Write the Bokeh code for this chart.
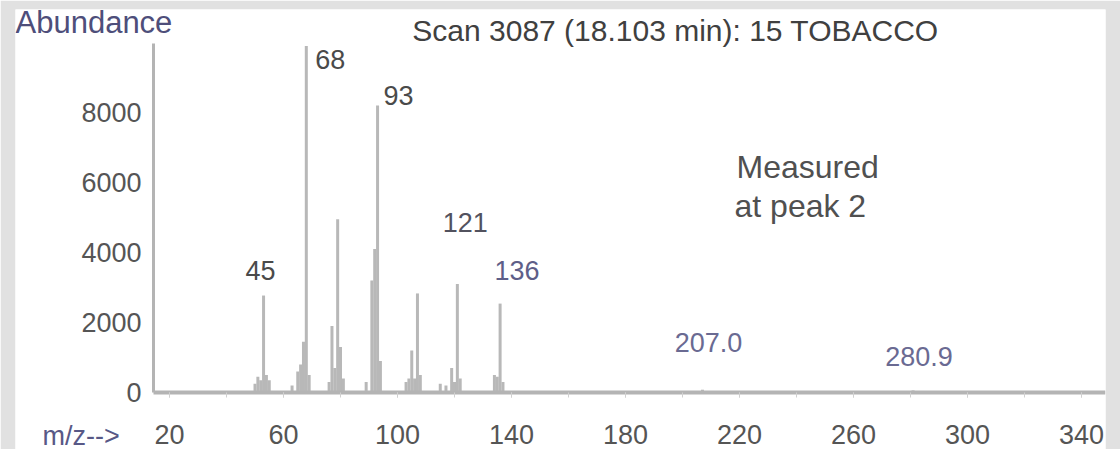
from bokeh.plotting import figure
from bokeh.models import Range1d, FixedTicker, Label, ColumnDataSource
from bokeh.core.properties import value
from bokeh.embed import file_html
from bokeh.resources import INLINE

# Spectrum lines: m/z and abundance
mz = [50, 51, 52, 53, 54, 55,
      63, 65, 66, 67, 68, 69,
      76, 77, 78, 79, 80, 81,
      89, 91, 92, 93, 94,
      103, 104, 105, 106, 107, 108,
      115, 117, 119, 120, 121, 122,
      134, 135, 136, 137,
      207.0, 280.9]
abundance = [250, 450, 350, 2770, 500, 350,
             200, 600, 800, 1450, 9900, 500,
             300, 1900, 700, 4950, 1300, 400,
             300, 3200, 4100, 8200, 900,
             300, 400, 1200, 400, 2830, 500,
             250, 200, 700, 300, 3100, 400,
             500, 450, 2540, 300,
             80, 60]

# Peak annotations
peak_labels = ["45", "68", "93", "121", "136", "207.0", "280.9"]
peak_label_mz = [53, 68, 93, 121, 136, 207.0, 280.9]
peak_label_colors = ["#4a4a4a", "#4a4a4a", "#4a4a4a", "#52525e", "#5e5e88", "#6a6a92", "#6a6a92"]
peak_label_dx = [-3, 24, 21, 8, 17, 6, 6]
peak_label_dy = [-25, 14, -10, -61, -33, -47, -34]

x_ticks = [20, 60, 100, 140, 180, 220, 260, 300, 340]
x_minor = list(range(20, 341, 20))
y_ticks = [0, 2000, 4000, 6000, 8000]

# axis extents (data units)
mz_lo, mz_hi = 14.39, 348.42
ab_lo, ab_hi = 0, 9970

title_text = "Scan 3087 (18.103 min): 15 TOBACCO"
note_lines = ["Measured", "at peak 2"]

FONT = "Liberation Sans"
AXIS = "#b4b4b4"

# The white panel is the plot frame; the grey strips around it are the border.
p = figure(width=1120, height=449, output_backend="svg", toolbar_location=None,
           x_range=Range1d(-34.04, mz_hi), y_range=Range1d(-1628.3, 10941.3),
           min_border_left=15, min_border_right=15,
           min_border_top=9, min_border_bottom=0)
p.background_fill_color = "white"
p.border_fill_color = "#e1e1e1"
p.outline_line_color = None
p.xgrid.visible = False
p.ygrid.visible = False

# axes drawn inside the panel at fixed positions
p.xaxis.fixed_location = ab_lo
p.xaxis.bounds = (mz_lo, mz_hi)
p.yaxis.fixed_location = mz_lo
p.yaxis.bounds = (ab_lo, ab_hi)
p.xaxis.ticker = FixedTicker(ticks=x_ticks, minor_ticks=x_minor)
p.yaxis.ticker = FixedTicker(ticks=y_ticks, minor_ticks=[])
for ax in (p.xaxis, p.yaxis):
    ax.axis_line_color = AXIS
    ax.major_label_text_font = FONT
    ax.major_label_text_font_size = "27px"
    ax.major_label_text_color = "#555555"
p.xaxis.axis_line_width = 4
p.yaxis.axis_line_width = 3
p.yaxis.major_tick_out = 0
p.yaxis.major_tick_in = 0
p.yaxis.minor_tick_out = 0
p.yaxis.minor_tick_in = 0
p.yaxis.major_label_standoff = 12
p.xaxis.major_tick_in = 0
p.xaxis.major_tick_out = 5
p.xaxis.minor_tick_in = 0
p.xaxis.minor_tick_out = 5
p.xaxis.major_tick_line_color = "#d0d0d0"
p.xaxis.minor_tick_line_color = "#d0d0d0"
p.xaxis.major_label_standoff = 27

# spectrum sticks
src = ColumnDataSource(data=dict(mz=mz, ab=abundance, base=[0] * len(mz)))
p.segment(x0="mz", y0="base", x1="mz", y1="ab", source=src,
          line_color="#b8b8b8", line_width=3)

# peak labels
ab_of = dict(zip(mz, abundance))
lsrc = ColumnDataSource(data=dict(
    x=peak_label_mz,
    y=[ab_of[m] for m in peak_label_mz],
    text=peak_labels,
    color=peak_label_colors,
    dx=peak_label_dx,
    dy=peak_label_dy,
))
p.text(x="x", y="y", text="text", source=lsrc, x_offset="dx", y_offset="dy",
       text_align="center", text_baseline="middle", text_color="color",
       text_font=value(FONT), text_font_size=value("27px"))

# titles and notes (screen units measured from the panel's lower-left corner)
def add_text(x, y, text, size, color, align="left"):
    p.add_layout(Label(x=x, y=y, x_units="screen", y_units="screen", text=text,
                       text_align=align, text_baseline="middle", text_font=FONT,
                       text_font_size=size, text_color=color))

add_text(660, 419, title_text, "30px", "#404040", align="center")
add_text(0, 427, "Abundance", "31px", "#4e4e7a")
add_text(27, 14, "m/z-->", "27px", "#585886")
add_text(721, 283, note_lines[0], "32px", "#505050")
add_text(719, 244, note_lines[1], "32px", "#505050")

open("out.html", "w").write(file_html(p, INLINE))
